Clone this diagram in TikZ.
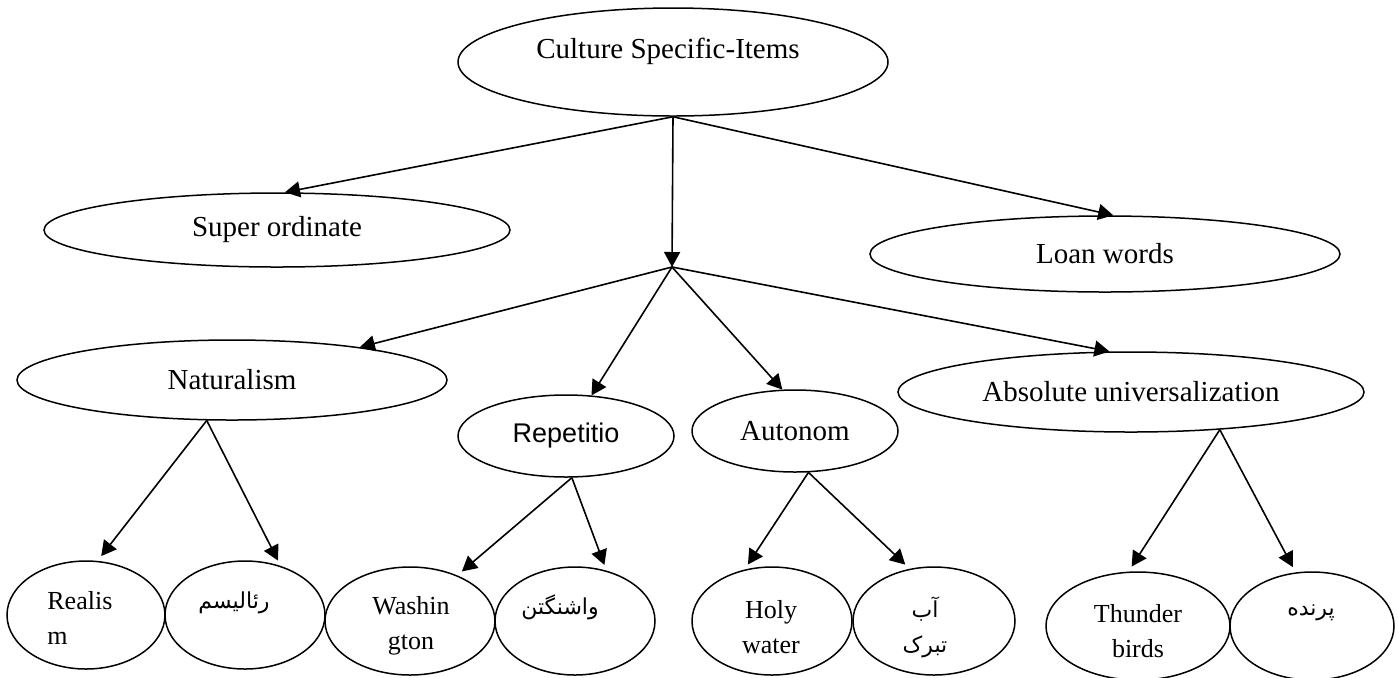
\documentclass[tikz,border=0pt]{standalone}
\usepackage{fontspec}
\setmainfont{Liberation Serif}
\newfontfamily\arabicfont[Script=Arabic]{DejaVu Sans}
\newfontfamily\arialfont{Liberation Sans}
\TeXXeTstate=1
\usetikzlibrary{shapes.geometric,arrows.meta}
\begin{document}
\begin{tikzpicture}[x=0.5pt,y=-0.5pt,
  ell/.style={draw, ellipse, line width=0.75pt, inner sep=0pt},
  txt/.style={inner sep=0pt, font=\fontsize{14.5}{17}\selectfont},
  stxt/.style={inner sep=0pt, font=\fontsize{13}{17.5}\selectfont},
  fa/.style={inner sep=0pt, font=\arabicfont\fontsize{11}{17.5}\selectfont},
  arr/.style={-{Triangle[length=7.5pt,width=8pt]}, line width=0.8pt},
  barr/.style={arr, shorten >=3pt}]
\useasboundingbox (0,0) rectangle (1398,677);
% top level
\node[ell, minimum width=215pt, minimum height=54pt] (cul) at (673,62) {};
\node[txt] (cult) at (668,51) {Culture Specific-Items};
\node[ell, txt, minimum width=233pt, minimum height=37pt] (sup) at (277,230) {Super ordinate};
\node[ell, txt, minimum width=235pt, minimum height=38pt] (loan) at (1105,254) {Loan words};
\coordinate (hub) at (672,267);
% middle level
\node[ell, txt, minimum width=215pt, minimum height=40pt] (nat) at (232,380) {Naturalism};
\node[ell, minimum width=108pt, minimum height=41pt, inner sep=0pt,
      font=\arialfont\fontsize{13.5}{16}\selectfont] (rep) at (566,436) {Repetitio};
\node[ell, txt, minimum width=103pt, minimum height=41pt] (aut) at (795,431) {Autonom};
\node[ell, txt, minimum width=233pt, minimum height=40pt] (abs) at (1131,392) {Absolute universalization};
% bottom level
\node[ell, minimum width=79pt, minimum height=54pt] (rea) at (86,615) {};
\node[ell, minimum width=80pt, minimum height=54pt] (rai) at (245,615) {};
\node[ell, minimum width=85pt, minimum height=54pt] (was) at (410,621) {};
\node[ell, minimum width=80pt, minimum height=54pt] (vas) at (575,621) {};
\node[ell, minimum width=80pt, minimum height=54pt] (hol) at (772,621) {};
\node[ell, minimum width=81pt, minimum height=54pt] (ab) at (934,621) {};
\node[ell, minimum width=92pt, minimum height=54pt] (thu) at (1138,626) {};
\node[ell, minimum width=82pt, minimum height=54pt] (par) at (1312,626) {};
\node[stxt, align=left, anchor=west] (reat) at (47,618) {Realis\\m};
\node[fa] (rait) at (234,603) {\beginR رئالیسم\endR};
\node[stxt, align=center] (wast) at (411,626) {Washin\\gton};
\node[fa] (vast) at (560,607) {\beginR واشنگتن\endR};
\node[stxt, align=center] (holt) at (771,627) {Holy\\water};
\node[fa, align=center] (abt) at (925,627) {\beginR آب\endR\\\beginR تبرک\endR};
\node[stxt, align=center] (thut) at (1138,631) {Thunder\\birds};
\node[fa] (part) at (1311,613) {\beginR پرنده\endR};
% connectors
\draw[arr] (cul.south) -- (hub);
\draw[arr] (cul.south) -- (sup.78);
\draw[arr] (cul.south) -- (loan.78);
\draw[arr] (hub) -- (nat);
\draw[arr] (hub) -- (rep);
\draw[arr] (hub) -- (aut.107);
\draw[arr] (hub) -- (abs.118);
\draw[barr] (nat.238) -- (rea.78);
\draw[barr] (nat.238) -- (rai.54);
\draw[barr] (rep.278) -- (was.44);
\draw[barr] (rep.278) -- (vas.58);
\draw[barr] (aut.288) -- (hol.118);
\draw[barr] (aut.288) -- (ab.115);
\draw[barr] (abs.337) -- (thu.100);
\draw[barr] (abs.337) -- (par.107);
\end{tikzpicture}
\end{document}
